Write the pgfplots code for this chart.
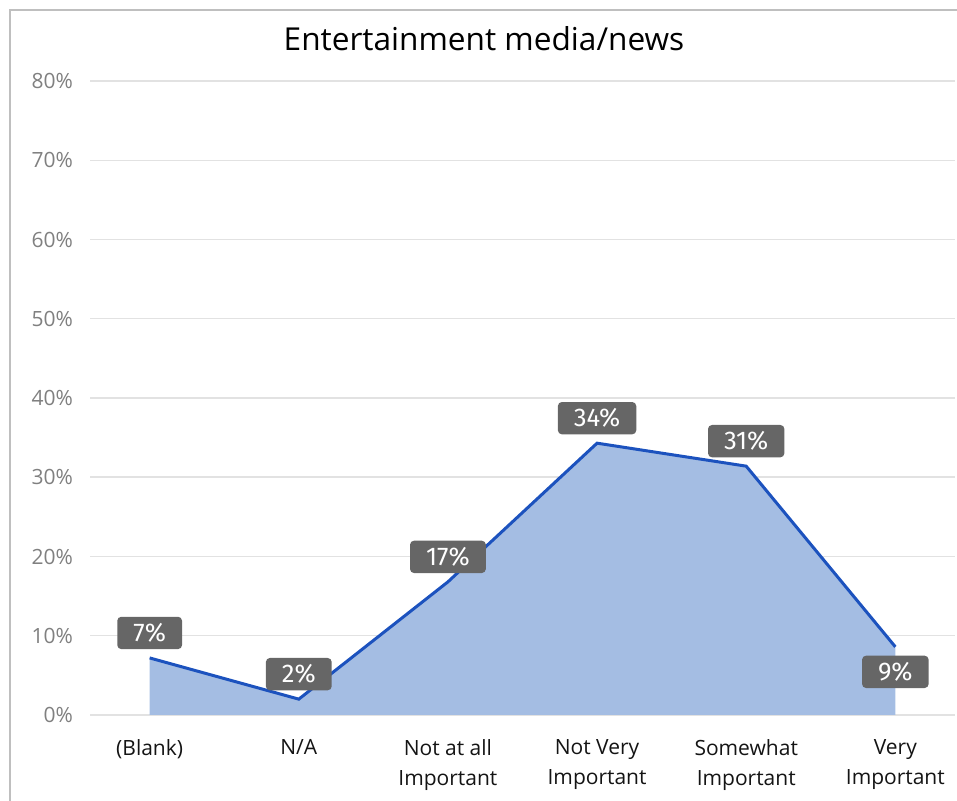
\documentclass[border=0pt]{standalone}
\usepackage{pgfplots}
\pgfplotsset{compat=1.18}
\usepackage{fontspec}
\setmainfont{Open Sans}
\newfontfamily\lblfont{Fira Sans}
\definecolor{areafill}{RGB}{164,189,227}
\definecolor{linecol}{RGB}{28,82,190}
\definecolor{gridc}{RGB}{226,226,226}
\definecolor{tickc}{RGB}{128,128,128}
\definecolor{boxc}{RGB}{102,102,102}
\definecolor{framec}{RGB}{191,191,191}
\definecolor{catc}{RGB}{20,20,20}
\begin{document}
\begin{tikzpicture}[x=1pt,y=1pt]
\useasboundingbox (-45,-43) rectangle (433.5,357.5);
\draw[framec, line width=0.75pt] (-40,-80) -- (-40,352.5) -- (600,352.5);
\node[font=\fontsize{15.8}{19}\selectfont, text=black] at (197,338) {Entertainment media/news};
\begin{axis}[
  at={(0,0)}, anchor=south west,
  scale only axis,
  width=432.5pt, height=317pt,
  xmin=-0.4, xmax=5.4,
  ymin=0, ymax=80,
  ytick={0,10,20,30,40,50,60,70,80},
  xtick={0,1,2,3,4,5},
  xticklabels={(Blank), N/A, Not at all\\Important, Not Very\\Important, Somewhat\\Important, Very\\Important},
  /pgf/number format/assume math mode=true,
  yticklabel={\pgfmathprintnumber{\tick}\%},
  yticklabel style={font=\fontsize{10.5}{12}\selectfont, text=tickc, anchor=east, xshift=-5pt},
  xticklabel style={font=\fontsize{10.5}{15}\selectfont, text=catc, align=center, anchor=north, yshift=-8.5pt},
  axis line style={draw=none},
  major tick length=0pt,
  ymajorgrids,
  grid style={gridc, line width=0.75pt},
  clip=false,
]
\addplot[fill=areafill, draw=none] coordinates {(0,7.2) (1,2.0) (2,16.8) (3,34.3) (4,31.4) (5,8.6)} \closedcycle;
\addplot[linecol, line width=1.5pt, mark=none] coordinates {(0,7.2) (1,2.0) (2,16.8) (3,34.3) (4,31.4) (5,8.6)};
\addplot[draw=none, mark=none, point meta=y,
  nodes near coords={\pgfmathprintnumber[fixed,precision=0]{\pgfplotspointmeta}\%},
  every node near coord/.append style={fill=boxc, text=white, rounded corners=2pt,
    font=\lblfont\fontsize{12.8}{14}\selectfont, inner xsep=8pt, minimum height=16pt,
    anchor=center, yshift=12.5pt}]
  coordinates {(0,7.2) (1,2.0) (2,16.8) (3,34.3) (4,31.4)};
\addplot[draw=none, mark=none, point meta=y,
  nodes near coords={\pgfmathprintnumber[fixed,precision=0]{\pgfplotspointmeta}\%},
  every node near coord/.append style={fill=boxc, text=white, rounded corners=2pt,
    font=\lblfont\fontsize{12.8}{14}\selectfont, inner xsep=8pt, minimum height=16pt,
    anchor=center, yshift=-12.5pt}]
  coordinates {(5,8.6)};
\end{axis}
\end{tikzpicture}
\end{document}
